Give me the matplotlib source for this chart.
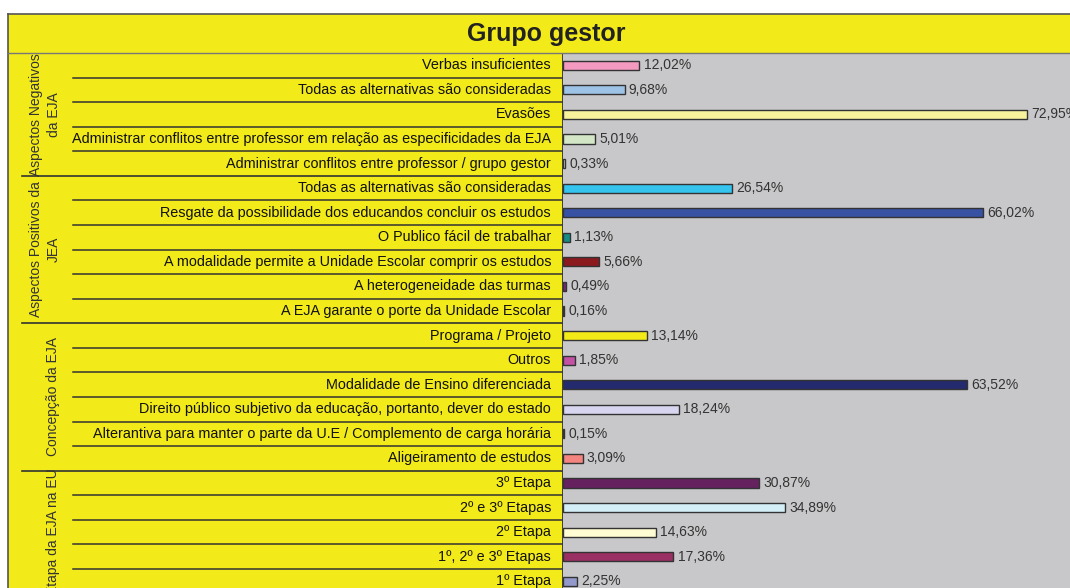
import matplotlib
matplotlib.use("Agg")
import matplotlib.pyplot as plt
from matplotlib.patches import Rectangle
from matplotlib.lines import Line2D

plt.rcParams['font.family'] = ['Liberation Sans', 'DejaVu Sans']

title = "Grupo gestor"
categories = [
    "Verbas insuficientes",
    "Todas as alternativas são consideradas",
    "Evasões",
    "Administrar conflitos entre professor em relação as especificidades da EJA",
    "Administrar conflitos entre professor / grupo gestor",
    "Todas as alternativas são consideradas",
    "Resgate da possibilidade dos educandos concluir os estudos",
    "O Publico fácil de trabalhar",
    "A modalidade permite a Unidade Escolar comprir os estudos",
    "A heterogeneidade das turmas",
    "A EJA garante o porte da Unidade Escolar",
    "Programa / Projeto",
    "Outros",
    "Modalidade de Ensino diferenciada",
    "Direito público subjetivo da educação, portanto, dever do estado",
    "Alterantiva para manter o parte da U.E / Complemento de carga horária",
    "Aligeiramento de estudos",
    "3º Etapa",
    "2º e 3º Etapas",
    "2º Etapa",
    "1º, 2º e 3º Etapas",
    "1º Etapa",
]
values = [12.02, 9.68, 72.95, 5.01, 0.33,
          26.54, 66.02, 1.13, 5.66, 0.49, 0.16,
          13.14, 1.85, 63.52, 18.24, 0.15, 3.09,
          30.87, 34.89, 14.63, 17.36, 2.25]
value_labels = ["12,02%", "9,68%", "72,95%", "5,01%", "0,33%",
                "26,54%", "66,02%", "1,13%", "5,66%", "0,49%", "0,16%",
                "13,14%", "1,85%", "63,52%", "18,24%", "0,15%", "3,09%",
                "30,87%", "34,89%", "14,63%", "17,36%", "2,25%"]
colors = ["#F49AC1", "#9DC3E6", "#F8F29C", "#D3E7C6", "#E6E6E6",
          "#34C4EE", "#3752A3", "#168C86", "#8B1A1E", "#7B2A7C", "#C8C8CA",
          "#F3EB17", "#C352A5", "#232B6E", "#D7D5EF", "#C8C8CA", "#F4847F",
          "#66215F", "#D3EEF6", "#FFFBD2", "#9A2F63", "#9499CC"]
groups = ["Aspectos Negativos\nda EJA", "Aspectos Positivos da\nJEA",
          "Concepção da EJA", "Etapa da EJA na EU"]
group_sizes = [5, 6, 6, 5]

W, H = 1070, 588
fig = plt.figure(figsize=(W / 100, H / 100), dpi=100)
fig.patch.set_facecolor("white")

YELLOW = "#F2EA19"
GRAY = "#C8C8CA"
DARK = "#333333"

def fx(px):
    return px / W

def fy(py):
    return 1 - py / H

top_px = 53
n = len(values)
row_h = 24.57
ymax = -0.5 + (H - top_px) / row_h

# Title band
fig.patches.append(Rectangle((fx(8), fy(53)), fx(W) - fx(8), fy(14) - fy(53),
                             transform=fig.transFigure, facecolor=YELLOW,
                             edgecolor="none", zorder=0))
fig.add_artist(Line2D([fx(8), 1], [fy(14), fy(14)], color="#555555", lw=1.2))
fig.add_artist(Line2D([fx(8), fx(8)], [fy(14), 0], color="#555555", lw=1.2))
fig.add_artist(Line2D([fx(8), 1], [fy(53), fy(53)], color="#777777", lw=1.0))
fig.text(fx(546), fy(34), title, ha="center", va="center",
         fontsize=18, fontweight="bold", color="#222222")

# Left panel
axl = fig.add_axes([fx(8), 0, fx(563) - fx(8), fy(top_px)])
axl.set_xlim(8, 563)
axl.set_ylim(ymax, -0.5)
axl.set_facecolor(YELLOW)
for s in axl.spines.values():
    s.set_visible(False)
axl.set_xticks([])
axl.set_yticks([])

start = 0
for g, size in zip(groups, group_sizes):
    if start > 0:
        axl.plot([22, 563], [start - 0.5, start - 0.5], color=DARK, lw=1.2)
    for k in range(1, size):
        y = start + k - 0.5
        axl.plot([73, 563], [y, y], color=DARK, lw=1.1)
    center = start + (size - 1) / 2
    xg = 45 if "\n" in g else 53
    axl.text(xg, center, g, rotation=90, ha="center", va="center",
             multialignment="center", fontsize=10, color="#333333",
             linespacing=1.3)
    start += size

for i, c in enumerate(categories):
    axl.text(551, i, c, ha="right", va="center", fontsize=10.4, color="#111111")

axl.plot([563, 563], [-0.5, ymax], color=DARK, lw=1.3, clip_on=False)

# Right plot area
axr = fig.add_axes([fx(563), 0, 1 - fx(563), fy(top_px)])
scale = (1027 - 563) / 72.95
axr.set_xlim(0, (W - 563) / scale)
axr.set_ylim(ymax, -0.5)
axr.set_facecolor(GRAY)
for s in axr.spines.values():
    s.set_visible(False)
axr.set_xticks([])
axr.set_yticks([])

ypos = list(range(n))
axr.barh(ypos, values, height=0.37, color=colors, edgecolor=DARK, linewidth=1.0)
for i, (v, lab) in enumerate(zip(values, value_labels)):
    axr.annotate(lab, (v, i), xytext=(3, 0), textcoords="offset points",
                 ha="left", va="center", fontsize=10, color="#333333",
                 annotation_clip=False)

fig.savefig("out.png", dpi=100)
